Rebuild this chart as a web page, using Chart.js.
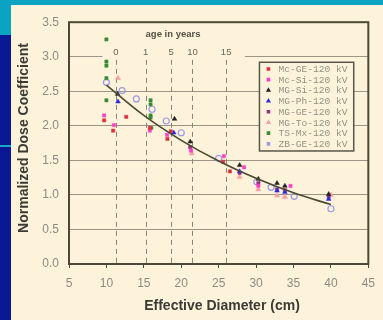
<!DOCTYPE html>
<html>
<head>
<meta charset="utf-8">
<script src="https://cdn.jsdelivr.net/npm/chart.js@4.4.1/dist/chart.umd.min.js"></script>
<style>
  html, body { margin: 0; padding: 0; }
  body { width: 383px; height: 320px; position: relative; overflow: hidden; background: #fcf3da; }
  .bar-top { position: absolute; left: 0; top: 0; width: 383px; height: 5px; background: #0aa3c2; }
  .bar-left { position: absolute; left: 0; top: 0; width: 11px; height: 320px; background: #0b1894; }
  .bar-left-top { position: absolute; left: 0; top: 0; width: 11px; height: 35px; background: #0aa3c2; }
  .bar-left-line { position: absolute; left: 0; top: 145px; width: 11px; height: 2px; background: #1aa8c8; }
  #wrap { position: absolute; left: 11px; top: 5px; width: 372px; height: 315px; background: #fcf3da; }
</style>
</head>
<body>
<div class="bar-top"></div>
<div class="bar-left"></div>
<div class="bar-left-top"></div>
<div class="bar-left-line"></div>
<div id="wrap"><canvas id="chart"></canvas></div>
<script>
// --- data (diameter cm, normalized coefficient) ---
const seriesNames = ['Mc-GE-120 kV', 'Mc-Si-120 kV', 'MG-Si-120 kV', 'MG-Ph-120 kV',
                     'MG-GE-120 kV', 'MG-To-120 kV', 'TS-Mx-120 kV', 'ZB-GE-120 kV'];

const mcGE = [[9.7, 2.08], [10.9, 1.93], [12.65, 2.13], [15.8, 1.97], [18.15, 1.81], [18.6, 1.92],
              [25.6, 1.48], [26.5, 1.34]];
const mcSi = [[9.7, 2.15], [11.0, 2.01], [15.8, 1.93], [18.1, 1.87], [21.3, 1.64], [25.7, 1.56],
              [28.4, 1.40], [30.3, 1.13], [34.6, 1.13]];
const mgSi = [[11.5, 2.46], [19.1, 2.10], [21.2, 1.77], [27.8, 1.43], [30.3, 1.23], [32.8, 1.17],
              [33.85, 1.13], [39.7, 1.01]];
const mgPh = [[11.55, 2.35], [19.0, 1.90], [27.8, 1.34], [32.8, 1.06], [33.85, 1.04], [39.7, 0.94]];
const mgGE = [[21.2, 1.69], [27.8, 1.32], [30.3, 1.17], [32.8, 1.08], [33.85, 1.07], [39.7, 0.97]];
const mgTo = [[11.55, 2.69], [21.4, 1.60], [27.8, 1.26], [30.3, 1.08], [32.8, 0.99], [33.85, 0.97],
              [40.0, 1.00]];
const tsMx = [[10.0, 3.25], [10.0, 2.93], [10.0, 2.87], [10.0, 2.69], [10.0, 2.37], [15.9, 2.37],
              [15.9, 2.31], [15.9, 2.15], [15.9, 2.12], [16.0, 1.97]];
const zbGE = [[10.0, 2.63], [12.1, 2.51], [14.0, 2.39], [16.1, 2.24], [18.0, 2.07], [20.0, 1.90],
              [25.0, 1.53], [30.1, 1.19], [32.0, 1.11], [35.1, 0.98], [40.0, 0.80]];

// fitted trend, read at a few diameters
const fitX = [10, 15, 20, 25, 30, 35, 40];
const fitY = [2.59, 2.15, 1.79, 1.49, 1.24, 1.03, 0.86];

// age markers along the diameter axis
const ageLabels = ['0', '1', '5', '10', '15'];
const ageDiameters = [11.25, 15.25, 18.65, 21.5, 26.0];

const xTicks = [5, 10, 15, 20, 25, 30, 35, 40, 45];
const yTicks = [0, 0.5, 1.0, 1.5, 2.0, 2.5, 3.0, 3.5];

const BG = '#fcf3da';
const FRAME = '#4d4838';

const toXY = arr => arr.map(([x, y]) => ({ x, y }));

const styles = [
  { color: '#e0303c', fill: '#e0303c', pointStyle: 'rect', radius: 2.3 },
  { color: '#ff3fc8', fill: '#ff3fc8', pointStyle: 'rect', radius: 2.3 },
  { color: '#202020', fill: '#202020', pointStyle: 'triangle', radius: 2.7 },
  { color: '#2a2ae0', fill: '#2a2ae0', pointStyle: 'triangle', radius: 2.7 },
  { color: '#9a2e88', fill: '#9a2e88', pointStyle: 'rect', radius: 2.3 },
  { color: '#f7a0a8', fill: '#f7a0a8', pointStyle: 'triangle', radius: 3 },
  { color: '#3a8a36', fill: '#3a8a36', pointStyle: 'rect', radius: 2.3 },
  { color: '#9c9ce6', fill: 'rgba(0,0,0,0)', pointStyle: 'circle', radius: 3.0 }
];

const pointSets = [mcGE, mcSi, mgSi, mgPh, mgGE, mgTo, tsMx, zbGE];

const datasets = pointSets.map((pts, i) => ({
  type: 'scatter',
  label: seriesNames[i],
  data: toXY(pts),
  pointStyle: styles[i].pointStyle,
  pointRadius: styles[i].radius,
  pointBackgroundColor: styles[i].fill,
  pointBorderColor: styles[i].color,
  pointBorderWidth: i === 7 ? 1.2 : 0.5,
  order: 1
}));

datasets.push({
  type: 'line',
  label: 'fit',
  data: fitX.map((x, i) => ({ x, y: fitY[i] })),
  borderColor: '#4a4a32',
  borderWidth: 1.6,
  pointRadius: 0,
  tension: 0.4,
  fill: false,
  order: 0
});

// annotations: cover box behind the age labels, dashed age lines, legend, frame, titles
const annotations = {
  id: 'annotations',
  beforeDatasetsDraw(chart) {
    const { ctx, chartArea, scales: { x, y } } = chart;
    ctx.save();
    // cream box that hides the 3.0 gridline behind the age header
    const bx0 = x.getPixelForValue(9.46), bx1 = x.getPixelForValue(28.5);
    const by1 = y.getPixelForValue(2.975);
    ctx.fillStyle = BG;
    ctx.fillRect(bx0, chartArea.top + 1, bx1 - bx0, by1 - chartArea.top - 1);

    // dashed vertical age lines
    ctx.strokeStyle = '#8a8478';
    ctx.lineWidth = 1;
    ctx.setLineDash([5, 4]);
    const lineTop = y.getPixelForValue(2.955);
    ageDiameters.forEach(d => {
      const px = Math.round(x.getPixelForValue(d)) + 0.5;
      ctx.beginPath();
      ctx.moveTo(px, lineTop);
      ctx.lineTo(px, chartArea.bottom);
      ctx.stroke();
    });
    ctx.setLineDash([]);

    // age header
    ctx.fillStyle = '#555048';
    ctx.textAlign = 'center';
    ctx.textBaseline = 'middle';
    ctx.font = 'bold 9.5px "Liberation Sans", Arial, sans-serif';
    ctx.fillText('age in years', x.getPixelForValue(18.9), y.getPixelForValue(3.323));
    ctx.font = '9.5px "Liberation Sans", Arial, sans-serif';
    ctx.fillStyle = '#6a655a';
    ageLabels.forEach((lab, i) => {
      ctx.fillText(lab, x.getPixelForValue(ageDiameters[i]), y.getPixelForValue(3.07));
    });

    // legend box
    const lx0 = x.getPixelForValue(30.45), lx1 = x.getPixelForValue(43.05);
    const ly0 = y.getPixelForValue(2.92), ly1 = y.getPixelForValue(1.636);
    ctx.fillStyle = BG;
    ctx.fillRect(lx0, ly0, lx1 - lx0, ly1 - ly0);
    ctx.strokeStyle = '#5a5548';
    ctx.lineWidth = 1.5;
    ctx.strokeRect(lx0, ly0, lx1 - lx0, ly1 - ly0);
    ctx.font = '9.6px "Liberation Mono", "DejaVu Sans Mono", monospace';
    ctx.textAlign = 'left';
    seriesNames.forEach((name, i) => {
      const ry = ly0 + 6.7 + i * 10.7;
      const st = styles[i];
      ctx.fillStyle = st.fill === 'rgba(0,0,0,0)' ? st.color : st.fill;
      ctx.strokeStyle = st.color;
      Chart.helpers.drawPoint(ctx, {
        pointStyle: st.pointStyle === 'circle' ? 'rect' : st.pointStyle,
        radius: 1.5, rotation: 0, borderWidth: 0.5
      }, lx0 + 9, ry);
      ctx.fillStyle = '#959085';
      ctx.fillText(name, lx0 + 19, ry + 0.5);
    });
    ctx.restore();
  },
  afterDraw(chart) {
    const { ctx, chartArea } = chart;
    ctx.save();
    ctx.strokeStyle = FRAME;
    ctx.lineWidth = 2;
    ctx.strokeRect(chartArea.left, chartArea.top, chartArea.right - chartArea.left, chartArea.bottom - chartArea.top);

    ctx.fillStyle = '#3c3a36';
    ctx.font = 'bold 14px "Liberation Sans", Arial, sans-serif';
    ctx.textAlign = 'center';
    ctx.textBaseline = 'middle';
    ctx.fillText('Effective Diameter (cm)', 211, 301.5);
    ctx.translate(13, 133);
    ctx.rotate(-Math.PI / 2);
    ctx.fillText('Normalized Dose Coefficient', 0, 0);
    ctx.restore();
  }
};

new Chart(document.getElementById('chart'), {
  data: { datasets },
  options: {
    responsive: true,
    maintainAspectRatio: false,
    devicePixelRatio: 1,
    animation: false,
    layout: { padding: { top: 8, right: 9, left: 0, bottom: 0 } },
    plugins: { legend: { display: false }, tooltip: { enabled: false } },
    scales: {
      x: {
        type: 'linear',
        min: 5,
        max: 45,
        afterFit(scale) { scale.height = 56; },
        afterBuildTicks(scale) { scale.ticks = xTicks.map(v => ({ value: v })); },
        grid: { drawOnChartArea: false, drawTicks: true, tickLength: 4, tickColor: FRAME },
        border: { display: false },
        ticks: { color: '#8e8a84', padding: 8, font: { family: '"Liberation Sans", Arial, sans-serif', size: 12 } }
      },
      y: {
        type: 'linear',
        min: 0,
        max: 3.5,
        afterFit(scale) { scale.width = 58; },
        afterBuildTicks(scale) { scale.ticks = yTicks.map(v => ({ value: v })); },
        grid: { color: '#9c9484', lineWidth: 1, drawTicks: false },
        border: { display: false },
        ticks: {
          color: '#8e8a84', padding: 10,
          font: { family: '"Liberation Sans", Arial, sans-serif', size: 12 },
          callback: v => Number(v).toFixed(1)
        }
      }
    }
  },
  plugins: [annotations]
});
</script>
</body>
</html>
